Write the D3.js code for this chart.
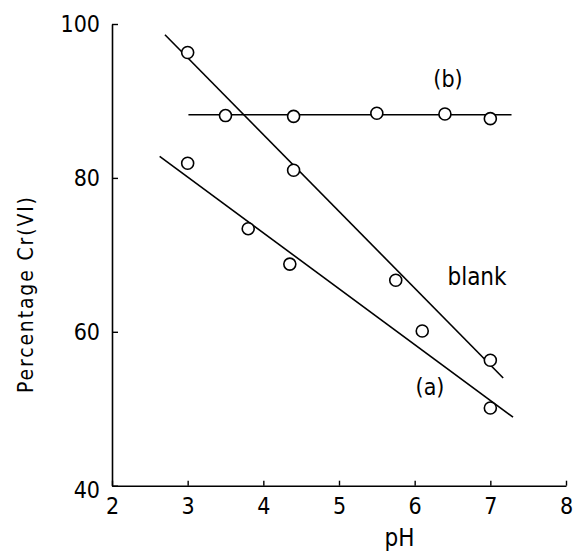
<!DOCTYPE html>
<html>
<head>
<meta charset="utf-8">
<script src="https://cdn.jsdelivr.net/npm/d3@7"></script>
<style>
  body { margin: 0; background: #fff; }
  svg text { font-family: "DejaVu Sans Condensed", "DejaVu Sans", sans-serif; fill: #000; }
</style>
</head>
<body>
<svg id="chart" width="575" height="552"></svg>
<script>
// pH values and percentage Cr(VI)
var blankPH = [3.0, 4.4, 5.75, 7.0];
var blankPct = [96.3, 81.0, 66.7, 56.3];
var seriesAPH = [3.0, 3.8, 4.35, 6.1, 7.0];
var seriesAPct = [81.9, 73.4, 68.8, 60.1, 50.1];
var seriesBPH = [3.5, 4.4, 5.5, 6.4, 7.0];
var seriesBPct = [88.1, 88.0, 88.4, 88.3, 87.7];

// fitted lines, end points in data units
var blankFit = [[2.70, 98.6], [7.17, 54.0]];
var fitA = [[2.63, 82.8], [7.30, 48.9]];
var fitB = [[3.01, 88.2], [7.28, 88.2]];

var xTicks = [2, 3, 4, 5, 6, 7, 8];
var yTicks = [40, 60, 80, 100];

var svg = d3.select('#chart');

var x = d3.scaleLinear().domain([2, 8]).range([112, 566]);
var y = d3.scaleLinear().domain([40, 100]).range([485.7, 24]);

// axes
var xAxis = d3.axisBottom(x).tickValues(xTicks).tickFormat(d3.format('d'))
  .tickSizeInner(-5).tickSizeOuter(0).tickPadding(12);
var yAxis = d3.axisLeft(y).tickValues(yTicks).tickFormat(d3.format('d'))
  .tickSizeInner(-6).tickSizeOuter(0).tickPadding(12);

var gx = svg.append('g').attr('transform', 'translate(0,' + y(40) + ')').call(xAxis);
var gy = svg.append('g').attr('transform', 'translate(' + x(2) + ',0)').call(yAxis);

[gx, gy].forEach(function(g) {
  g.select('.domain').attr('stroke', '#000').attr('stroke-width', 1.6);
  g.selectAll('.tick line').attr('stroke', '#000').attr('stroke-width', 1.4);
  g.selectAll('.tick text')
    .style('font-family', '"DejaVu Sans Condensed", "DejaVu Sans", sans-serif')
    .style('font-size', '23px')
    .attr('fill', '#000');
});
// the 40 and 2 labels at the corner sit apart like in the original
gy.selectAll('.tick text').attr('dy', function(d) { return d === 40 ? '0.5em' : '0.32em'; });
gx.selectAll('.tick text').attr('dy', '0.71em');

// axis titles
svg.append('text')
  .attr('x', x(5.8))
  .attr('y', 546)
  .attr('text-anchor', 'middle')
  .style('font-size', '24px')
  .text('pH');

svg.append('text')
  .attr('transform', 'translate(33,' + 295 + ') rotate(-90)')
  .attr('text-anchor', 'middle')
  .style('font-size', '21px')
  .attr('textLength', 196)
  .attr('lengthAdjust', 'spacing')
  .text('Percentage Cr(VI)');

// fit lines
var line = d3.line().x(function(d) { return x(d[0]); }).y(function(d) { return y(d[1]); });
[blankFit, fitA, fitB].forEach(function(pts) {
  svg.append('path')
    .attr('d', line(pts))
    .attr('fill', 'none')
    .attr('stroke', '#000')
    .attr('stroke-width', 1.6);
});

// markers
var drawPoints = function(phs, pcts) {
  svg.append('g')
    .selectAll('circle')
    .data(phs)
    .enter()
    .append('circle')
    .attr('cx', function(d) { return x(d); })
    .attr('cy', function(d, i) { return y(pcts[i]); })
    .attr('r', 6)
    .attr('fill', '#fff')
    .attr('stroke', '#000')
    .attr('stroke-width', 1.6);
};
drawPoints(blankPH, blankPct);
drawPoints(seriesAPH, seriesAPct);
drawPoints(seriesBPH, seriesBPct);

// series labels
svg.append('text').attr('x', 448).attr('y', 87).attr('text-anchor', 'middle')
  .style('font-size', '23px').text('(b)');
svg.append('text').attr('x', 477).attr('y', 285).attr('text-anchor', 'middle')
  .style('font-size', '24px').text('blank');
svg.append('text').attr('x', 430).attr('y', 395).attr('text-anchor', 'middle')
  .style('font-size', '23px').text('(a)');
</script>
</body>
</html>
